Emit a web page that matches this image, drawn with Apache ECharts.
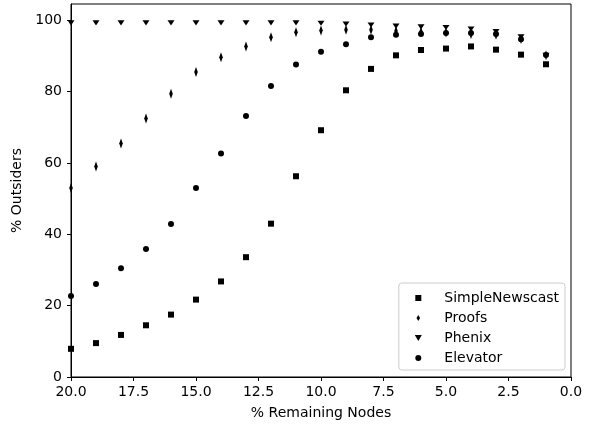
<!DOCTYPE html>
<html><head><meta charset="utf-8">
<script src="https://cdn.jsdelivr.net/npm/echarts@6/dist/echarts.min.js"></script>
<style>html,body{margin:0;padding:0;background:#fff}#c{width:596px;height:428px}</style>
</head><body><div id="c"></div>
<script>
const remaining = [20,19,18,17,16,15,14,13,12,11,10,9,8,7,6,5,4,3,2,1];
const simpleNewscast = [7.9,9.5,11.8,14.5,17.5,21.7,26.8,33.6,43.0,56.3,69.2,80.4,86.4,90.2,91.7,92.1,92.7,91.8,90.4,87.7];
const proofs = [53.0,59.0,65.5,72.5,79.4,85.5,89.7,92.7,95.3,96.7,97.2,97.4,97.4,97.0,96.8,96.6,96.2,96.0,94.8,90.2];
const phenix = [99.3,99.3,99.3,99.3,99.3,99.3,99.3,99.3,99.3,99.3,99.2,99.0,98.7,98.4,98.2,98.0,97.6,96.9,95.4,90.2];
const elevator = [22.7,26.1,30.5,35.9,42.9,53.0,62.7,73.2,81.6,87.6,91.2,93.3,95.3,96.0,96.2,96.5,96.5,96.2,94.7,90.3];
const xTicks = [0,2.5,5,7.5,10,12.5,15,17.5,20];
const yTicks = [0,20,40,60,80,100];

const pair = arr => remaining.map((x,i)=>[x,arr[i]]);
const font = 'DejaVu Sans';
const SQUARE = 'path://M0,0L1,0L1,1L0,1Z';
const DIAMOND = 'path://M0,-10L6,0L0,10L-6,0Z';
const TRI = 'path://M0,0L7,0L3.5,6Z';
const mk = (name, data, symbol, size) => ({
  name, type:'scatter', data: pair(data), symbol, symbolSize: size, symbolKeepAspect: true,
  itemStyle:{color:'#000', opacity:1}, emphasis:{disabled:true}, silent:true
});
const chart = echarts.init(document.getElementById('c'), null, {renderer:'canvas'});
chart.setOption({
  animation:false,
  textStyle:{fontFamily:font},
  grid:{left:71,right:25,top:4,bottom:51,show:true,borderColor:'#000',borderWidth:1,backgroundColor:'transparent'},
  xAxis:{type:'value',inverse:true,min:0,max:20,interval:2.5,position:'bottom',
    name:'% Remaining Nodes',nameLocation:'middle',nameGap:29,
    nameTextStyle:{fontFamily:font,fontSize:14,color:'#000'},
    axisLine:{show:true,onZero:false,lineStyle:{color:'#000',width:1}},
    axisTick:{show:true,length:4,lineStyle:{color:'#000'}},
    axisLabel:{fontFamily:font,fontSize:14,color:'#000',margin:8,formatter:v=>v.toFixed(1)},
    splitLine:{show:false}},
  yAxis:{type:'value',min:0,max:104.6,interval:20,position:'left',
    name:'% Outsiders',nameLocation:'middle',nameGap:30,
    nameTextStyle:{fontFamily:font,fontSize:14,color:'#000'},
    axisLine:{show:true,onZero:false,lineStyle:{color:'#000',width:1}},
    axisTick:{show:true,length:4,lineStyle:{color:'#000'},customValues:yTicks},
    axisLabel:{fontFamily:font,fontSize:14,color:'#000',margin:9,customValues:yTicks},
    splitLine:{show:false}},
  legend:{orient:'vertical',right:31,bottom:58,
    backgroundColor:'#fff',borderColor:'#ccc',borderWidth:1,borderRadius:3,
    padding:[8,6,5,16],itemWidth:8,itemHeight:6,itemGap:6,
    textStyle:{fontFamily:font,fontSize:14,color:'#000',padding:[0,0,0,17]},
    data:[{name:'SimpleNewscast',icon:SQUARE},{name:'Proofs',icon:DIAMOND},
          {name:'Phenix',icon:TRI},{name:'Elevator',icon:'circle'}]},
  series:[
    mk('SimpleNewscast', simpleNewscast, SQUARE, 6),
    mk('Proofs', proofs, DIAMOND, [6,10]),
    mk('Phenix', phenix, TRI, [7,6]),
    mk('Elevator', elevator, 'circle', 6)
  ]
});
</script></body></html>
